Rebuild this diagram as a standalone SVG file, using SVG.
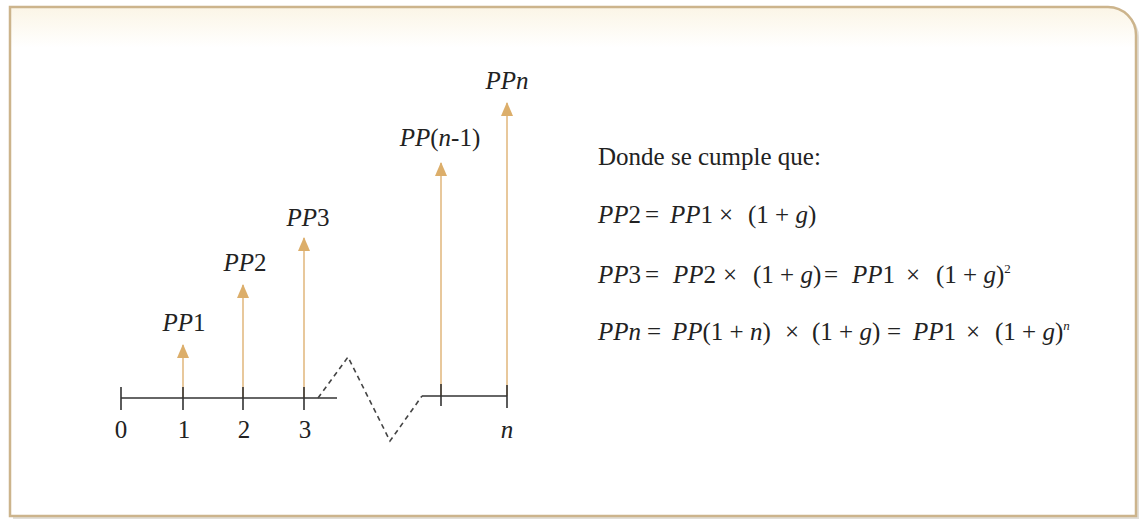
<svg xmlns="http://www.w3.org/2000/svg" width="1142" height="522" viewBox="0 0 1142 522">
  <defs>
    <linearGradient id="bg" x1="0" y1="0" x2="0" y2="1">
      <stop offset="0" stop-color="#fbf5e6"/>
      <stop offset="0.08" stop-color="#ffffff"/>
      <stop offset="1" stop-color="#ffffff"/>
    </linearGradient>
    <marker id="ah" viewBox="0 0 14 12" refX="13" refY="6" markerWidth="14" markerHeight="12" markerUnits="userSpaceOnUse" orient="auto">
      <path d="M0,0 L14,6 L0,12 Z" fill="#dcae6a"/>
    </marker>
  </defs>
  <style>
    .t { font-family: "Liberation Serif", "Times New Roman", serif; font-size: 25px; fill: #222; }
    .i { font-style: italic; }
    .axis { stroke: #333; stroke-width: 1.6; fill: none; }
    .dash { stroke: #444; stroke-width: 1.6; fill: none; stroke-dasharray: 5 4; }
    .arr { stroke: #e8c89c; stroke-width: 2; fill: none; marker-end: url(#ah); }
  </style>
  <rect x="0" y="0" width="1142" height="522" fill="#ffffff"/>
  <path d="M13,10 H1110 A27,27 0 0 1 1139,37 V519 H13 Z" fill="#cfcac0" opacity="0.6"/>
  <path id="frame" d="M10,7 H1108 A28,28 0 0 1 1136,35 V516 H10 Z" fill="url(#bg)" stroke="#ccb48c" stroke-width="2.5"/>

  <g id="connectors">
    <line class="arr" x1="183" y1="398" x2="183" y2="345"/>
    <line class="arr" x1="243" y1="398" x2="243" y2="285"/>
    <line class="arr" x1="304" y1="398" x2="304" y2="238"/>
    <line class="arr" x1="441" y1="396" x2="441" y2="163"/>
    <line class="arr" x1="507" y1="396" x2="507" y2="103"/>
  </g>

  <g id="axis">
    <line class="axis" x1="121" y1="398" x2="337" y2="398"/>
    <line class="axis" x1="121" y1="387" x2="121" y2="410"/>
    <line class="axis" x1="183" y1="387" x2="183" y2="410"/>
    <line class="axis" x1="243" y1="387" x2="243" y2="410"/>
    <line class="axis" x1="304" y1="387" x2="304" y2="410"/>
    <polyline class="dash" points="318,398 348,357 390,441 422,396"/>
    <line class="axis" x1="422" y1="396" x2="507" y2="396"/>
    <line class="axis" x1="441" y1="384" x2="441" y2="406"/>
    <line class="axis" x1="507" y1="385" x2="507" y2="408"/>
    <text class="t" x="121" y="438" text-anchor="middle">0</text>
    <text class="t" x="184" y="438" text-anchor="middle">1</text>
    <text class="t" x="244" y="438" text-anchor="middle">2</text>
    <text class="t" x="305" y="438" text-anchor="middle">3</text>
    <text class="t i" x="507" y="438" text-anchor="middle">n</text>
  </g>

  <g id="pp1"><text class="t" x="184" y="331" text-anchor="middle"><tspan class="i">PP</tspan>1</text></g>
  <g id="pp2"><text class="t" x="245" y="271" text-anchor="middle"><tspan class="i">PP</tspan>2</text></g>
  <g id="pp3"><text class="t" x="308" y="226" text-anchor="middle"><tspan class="i">PP</tspan>3</text></g>
  <g id="ppn1"><text class="t" x="440" y="146" text-anchor="middle"><tspan class="i">PP</tspan>(<tspan class="i">n</tspan>-1)</text></g>
  <g id="ppn"><text class="t i" x="507" y="89" text-anchor="middle">PPn</text></g>

  <g id="formulas">
    <text class="t" x="598" y="165">Donde se cumple que:</text>
    <text class="t" y="223"><tspan x="598" class="i">PP</tspan>2<tspan x="645">=</tspan><tspan x="670" class="i">PP</tspan>1<tspan x="719">×</tspan><tspan x="748">(1 + </tspan><tspan class="i">g</tspan>)</text>
    <text class="t" y="283"><tspan x="598" class="i">PP</tspan>3<tspan x="645">=</tspan><tspan x="673" class="i">PP</tspan>2<tspan x="723">×</tspan><tspan x="753">(1 + </tspan><tspan class="i">g</tspan>)<tspan x="824">=</tspan><tspan x="852" class="i">PP</tspan>1<tspan x="906">×</tspan><tspan x="936">(1 + </tspan><tspan class="i">g</tspan>)<tspan font-size="13" dy="-10">2</tspan></text>
    <text class="t" y="340"><tspan x="598" class="i">PPn</tspan><tspan x="647">=</tspan><tspan x="672" class="i">PP</tspan>(1 + <tspan class="i">n</tspan>)<tspan x="785">×</tspan><tspan x="812">(1 + </tspan><tspan class="i">g</tspan>)<tspan x="887">=</tspan><tspan x="913" class="i">PP</tspan>1<tspan x="966">×</tspan><tspan x="995">(1 + </tspan><tspan class="i">g</tspan>)<tspan class="i" font-size="13" dy="-10">n</tspan></text>
  </g>
</svg>
